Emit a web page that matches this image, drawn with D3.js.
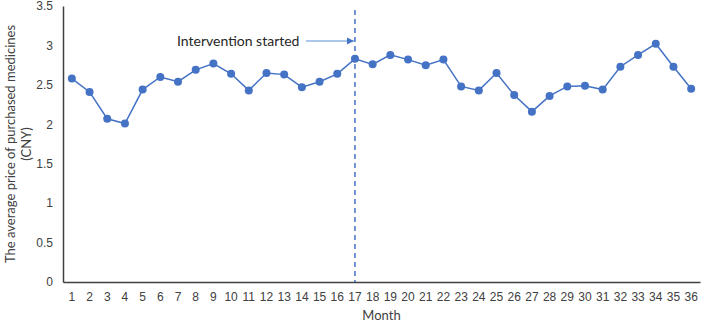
<!DOCTYPE html>
<html>
<head>
  <script src="https://d3js.org/d3.v7.min.js"></script>
  <style>
    body { margin: 0; background: white; font-family: Lato, "Open Sans", sans-serif; }
    .tick text { font-size: 12px; fill: #404040; }
  </style>
</head>
<body>
  <div id="chart"></div>
  <script>
    // Monthly average price of purchased medicines (CNY)
    const months = d3.range(1, 37).map(String);
    const prices = [2.58, 2.41, 2.07, 2.01, 2.44, 2.60, 2.54, 2.69, 2.77, 2.64,
                    2.43, 2.65, 2.63, 2.47, 2.54, 2.64, 2.83, 2.76, 2.88, 2.82,
                    2.75, 2.82, 2.48, 2.43, 2.65, 2.37, 2.16, 2.36, 2.48, 2.49,
                    2.44, 2.73, 2.88, 3.02, 2.73, 2.45];
    const yTicks = [0, 0.5, 1, 1.5, 2, 2.5, 3, 3.5];
    const interventionMonth = '17';

    const width = 702, height = 323;
    const margin = { top: 5, right: 2, bottom: 42, left: 63 };
    const blue = '#4472c4';

    const svg = d3.select('#chart').append('svg')
      .attr('width', width)
      .attr('height', height);

    const x = d3.scaleBand()
      .domain(months)
      .range([margin.left, width - margin.right]);

    const y = d3.scaleLinear()
      .domain([0, 3.5])
      .range([height - margin.bottom + 1, margin.top + 1]);

    // axes
    svg.append('g')
      .attr('transform', `translate(0,${y(0)})`)
      .call(d3.axisBottom(x).tickSize(0).tickPadding(10))
      .call(g => g.select('.domain').attr('stroke', '#404040').attr('stroke-width', 1.5));

    svg.append('g')
      .attr('transform', `translate(${margin.left},0)`)
      .call(d3.axisLeft(y).tickValues(yTicks).tickFormat(d3.format('')).tickSize(0).tickPadding(10))
      .call(g => g.select('.domain').attr('stroke', '#404040').attr('stroke-width', 1.5));

    // intervention marker
    const xi = x(interventionMonth) + x.bandwidth() / 2;
    svg.append('line')
      .attr('x1', xi).attr('x2', xi)
      .attr('y1', 10).attr('y2', y(0))
      .attr('stroke', blue)
      .attr('stroke-width', 1.5)
      .attr('stroke-dasharray', '5,4');

    svg.append('defs').append('marker')
      .attr('id', 'arrowhead')
      .attr('viewBox', '0 -5 10 10')
      .attr('refX', 10)
      .attr('refY', 0)
      .attr('orient', 'auto')
      .attr('markerWidth', 6)
      .attr('markerHeight', 6)
      .append('path')
      .attr('d', 'M0,-5L10,0L0,5Z')
      .attr('fill', blue);

    svg.append('line')
      .attr('x1', 306).attr('x2', xi - 1)
      .attr('y1', 41).attr('y2', 41)
      .attr('stroke', '#5b8fd6')
      .attr('stroke-width', 1.2)
      .attr('marker-end', 'url(#arrowhead)');

    svg.append('text')
      .attr('x', 177).attr('y', 46)
      .attr('font-size', 14)
      .attr('fill', '#262626')
      .text('Intervention started');

    // series
    const line = d3.line()
      .x((d, i) => x(months[i]) + x.bandwidth() / 2)
      .y(d => y(d));

    svg.append('path')
      .datum(prices)
      .attr('fill', 'none')
      .attr('stroke', blue)
      .attr('stroke-width', 1.5)
      .attr('d', line);

    svg.append('g')
      .selectAll('circle')
      .data(prices)
      .join('circle')
      .attr('cx', (d, i) => x(months[i]) + x.bandwidth() / 2)
      .attr('cy', d => y(d))
      .attr('r', 4)
      .attr('fill', blue);

    // axis titles
    svg.append('text')
      .attr('x', x(months[0]) + (width - margin.right - margin.left) / 2)
      .attr('y', 320)
      .attr('text-anchor', 'middle')
      .attr('font-size', 13)
      .attr('fill', '#404040')
      .text('Month');

    const yTitle = svg.append('text')
      .attr('transform', `translate(0,${(y(0) + y(3.5)) / 2}) rotate(-90)`)
      .attr('text-anchor', 'middle')
      .attr('font-size', 13)
      .attr('fill', '#404040');
    yTitle.append('tspan').attr('x', 0).attr('y', 15).text('The average price of purchased medicines');
    yTitle.append('tspan').attr('x', 0).attr('y', 31).text('(CNY)');
  </script>
</body>
</html>
